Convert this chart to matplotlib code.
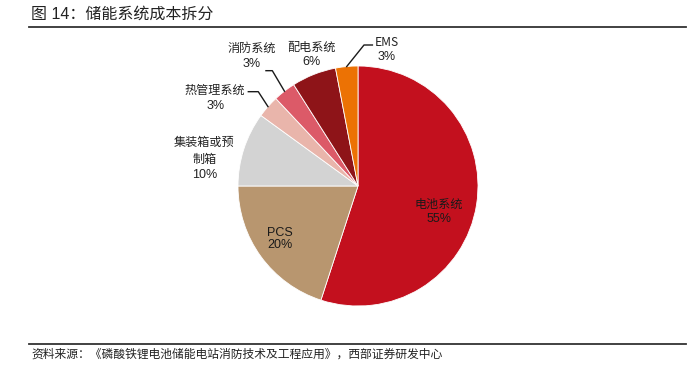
import matplotlib
matplotlib.use("Agg")
import matplotlib.pyplot as plt
import numpy as np

# 数据
labels = ["电池系统", "PCS", "集装箱或预\n制箱", "热管理系统", "消防系统", "配电系统", "EMS"]
values = [55, 20, 10, 3, 3, 6, 3]
colors = ["#C3101E", "#B8966F", "#D3D3D3", "#E9B5AB", "#DC5A68", "#8E1418", "#EC7204"]

title = "图 14：储能系统成本拆分"
source = "资料来源：《磷酸铁锂电池储能电站消防技术及工程应用》，西部证券研发中心"

mixed = ["Liberation Sans", "Noto Sans CJK SC"]
cjk = ["Noto Sans CJK SC", "DejaVu Sans"]

fig = plt.figure(figsize=(7, 3.74), dpi=100)

# title and rules
fig.text(31 / 700, 1 - 14 / 374, title, family=mixed, fontsize=11.5, color="#222222",
         ha="left", va="center")
fig.add_artist(plt.Line2D([29 / 700, 686 / 700], [1 - 27 / 374] * 2, color="#333333", lw=1.3))
fig.add_artist(plt.Line2D([29 / 700, 686 / 700], [1 - 343.5 / 374] * 2, color="#333333", lw=1.3))
fig.text(31 / 700, 1 - 354.5 / 374, source, family=cjk, fontsize=8.5, color="#222222",
         ha="left", va="center")

# pie, center (358,186) px, radius 120 px
ax = fig.add_axes([(358 - 120) / 700, (374 - 186 - 120) / 374, 240 / 700, 240 / 374])
ax.pie(values, colors=colors, startangle=90, counterclock=False, radius=1,
       wedgeprops=dict(edgecolor="white", linewidth=0.6))
ax.set_xlim(-1, 1)
ax.set_ylim(-1, 1)
ax.set_axis_off()

# mid angles of wedges
ends = 90 - np.cumsum(values) * 3.6
starts = ends + np.array(values) * 3.6
mids = np.deg2rad((starts + ends) / 2)


def edge(i):
    return np.cos(mids[i]), np.sin(mids[i])


def label(x, y1, y2, name, pct, color="#222222"):
    ax.text(x, y1, name, family=cjk, fontsize=8.7, color=color, ha="center", va="center")
    ax.text(x, y2, pct, family=mixed, fontsize=9, color=color, ha="center", va="center")


label(0.675, -0.153, -0.275, labels[0], "55%", "#1a1a1a")
ax.text(-0.654, -0.389, "PCS", family=mixed, fontsize=9, color="#1a1a1a", ha="center", va="center")
ax.text(-0.654, -0.49, "20%", family=mixed, fontsize=9, color="#1a1a1a", ha="center", va="center")
ax.text(-1.28, 0.36, "集装箱或预", family=cjk, fontsize=8.7, color="#222222", ha="center", va="center")
ax.text(-1.28, 0.22, "制箱", family=cjk, fontsize=8.7, color="#222222", ha="center", va="center")
ax.text(-1.28, 0.095, "10%", family=mixed, fontsize=9, color="#222222", ha="center", va="center")
label(-1.19, 0.80, 0.667, labels[3], "3%")
label(-0.883, 1.15, 1.017, labels[4], "3%")
label(-0.386, 1.158, 1.03, labels[5], "6%")
label(0.24, 1.197, 1.077, labels[6], "3%")

# leader lines
leaders = {3: [(-0.914, 0.786), (-0.831, 0.786)],
           4: [(-0.767, 0.961), (-0.714, 0.961)],
           6: [(0.12, 1.175), (0.05, 1.175)]}
for i, pts in leaders.items():
    ex, ey = edge(i)
    xs = [p[0] for p in pts] + [ex]
    ys = [p[1] for p in pts] + [ey]
    ax.plot(xs, ys, color="#1a1a1a", lw=1.0, clip_on=False)

fig.savefig("out.png", dpi=100)
